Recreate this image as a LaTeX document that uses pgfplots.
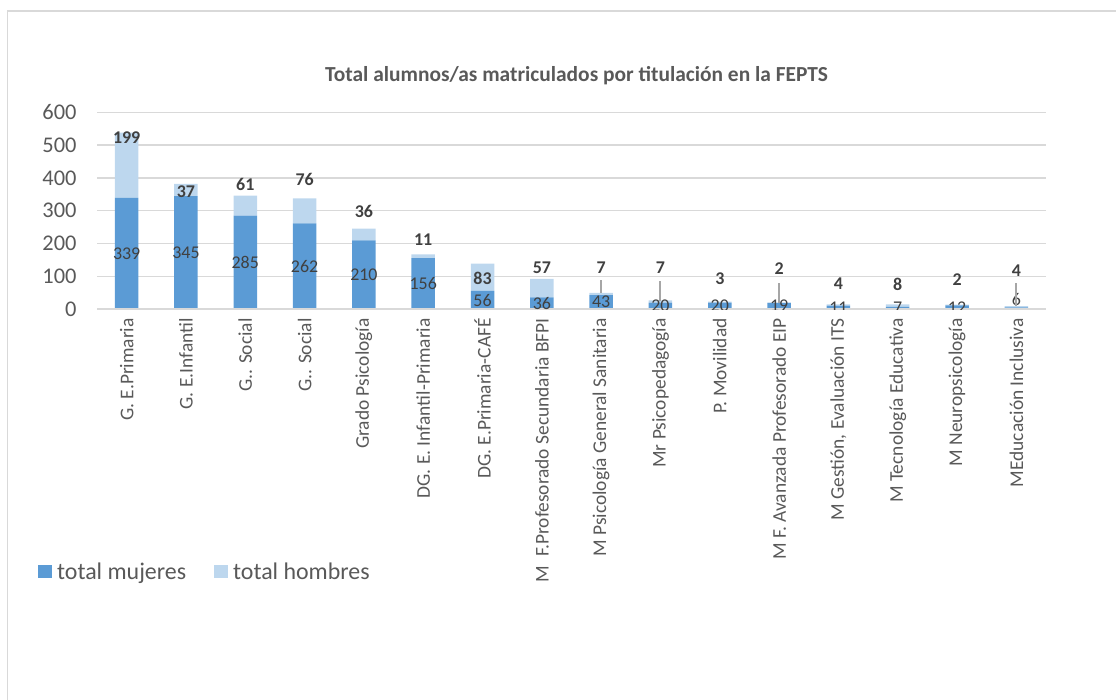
\documentclass[border=0pt]{standalone}
\usepackage{fontspec}
\setmainfont{Carlito}
\usepackage{pgfplots}
\pgfplotsset{compat=1.18}
\usepackage{pgfplotstable}

\definecolor{muj}{HTML}{5B9BD5}
\definecolor{hom}{HTML}{BDD7EE}
\definecolor{gridc}{HTML}{D9D9D9}
\definecolor{txt}{HTML}{595959}
\definecolor{lbl}{HTML}{404040}
\definecolor{lead}{HTML}{A6A6A6}

% i = titulación, m = total mujeres, h = total hombres
\pgfplotstableread{
i m h
0 339 199
1 345 37
2 285 61
3 262 76
4 210 36
5 156 11
6 56 83
7 36 57
8 43 7
9 20 7
10 20 3
11 19 2
12 11 4
13 7 8
14 12 2
15 6 4
}\datos

\pgfplotsset{marco/.style={
  at={(97bp,390.7bp)}, anchor=south west,
  scale only axis, width=949bp, height=197bp,
  xmin=-0.5, xmax=15.5, ymin=0, ymax=600}}

\begin{document}
\begin{tikzpicture}[x=1bp,y=1bp]
\path[use as bounding box] (0,0) rectangle (1116,700);
\draw[gridc, line width=1.2bp] (7.5,-5) -- (7.5,689) -- (1125,689);
\node[font=\bfseries\fontsize{21.5}{25}\selectfont, text=txt, anchor=base]
  at (576.5,618.3) {Total alumnos/as matriculados por titulación en la FEPTS};

\begin{axis}[
  marco,
  ybar stacked, bar width=23.5bp,
  xtick={0,...,15},
  xticklabels={G. E.Primaria, G. E.Infantil, G.. Social, G.. Social,
    Grado Psicología, DG. E. Infantil-Primaria, DG. E.Primaria-CAFÉ,
    M\ \ F.Profesorado Secundaria BFPI, M Psicología General Sanitaria,
    Mr Psicopedagogía, P. Movilidad, M F. Avanzada Profesorado EIP,
    {M Gestión, Evaluación ITS}, M Tecnología Educativa,
    M Neuropsicología, MEducación Inclusiva},
  ytick={0,100,...,600},
  axis line style={draw=none},
  major tick length=0pt,
  ymajorgrids, grid style={gridc, line width=1.3bp},
  /pgf/number format/assume math mode=true,
  yticklabel style={font=\fontsize{22.5}{26}\selectfont, text=txt, xshift=-17bp},
  xticklabel style={yshift=-5.5bp, rotate=90, anchor=east,
    font=\fontsize{19.5}{23}\selectfont, text=txt},
  legend columns=2,
  legend style={at={(-0.0622,-1.331)}, anchor=west, draw=none, inner sep=0pt,
    font=\fontsize{24}{28}\selectfont, text=txt,
    /tikz/every odd column/.append style={column sep=3bp},
    /tikz/every even column/.append style={column sep=26bp}},
  legend image code/.code={\fill[#1] (0bp,-6.5bp) rectangle (14bp,6.5bp);},
]
\addplot[fill=muj, draw=none] table[x=i, y=m] {\datos};
\addplot[fill=hom, draw=none] table[x=i, y=h] {\datos};
\legend{total mujeres, total hombres}
\end{axis}

% segunda capa: línea del eje y etiquetas de datos encima de las barras
\begin{axis}[marco, hide axis]
\draw[gridc, line width=1.8bp] (rel axis cs:0,0) -- (rel axis cs:1,0);

% etiquetas de mujeres (centro del segmento)
\foreach \k/\v/\p in {0/339/169.5,1/345/172.5,2/285/142.5,3/262/131,4/210/105,
  5/156/78,6/56/28,7/36/18,8/43/21.5,9/20/10,10/20/10,11/19/9.5,12/11/5.5,
  13/7/3.5,14/12/6,15/6/31}{
  \edef\tmp{\noexpand\node[font=\noexpand\fontsize{18}{21}\noexpand\selectfont,
    text=lbl] at (axis cs:\k,\p) {\v};}\tmp}

% líneas guía
\foreach \k/\a/\b in {8/89/50,9/86/25,11/80/19,15/80/10}{
  \edef\tmp{\noexpand\draw[lead, line width=2bp] (axis cs:\k,\a) -- (axis cs:\k,\b);}\tmp}

% etiquetas de hombres
\foreach \k/\v/\p in {0/199/523,1/37/359,2/61/380,3/76/394,4/36/299,5/11/211,
  6/83/94,7/57/127,8/7/127,9/7/127,10/3/94,11/2/124,12/4/77,13/8/77,
  14/2/89,15/4/118}{
  \edef\tmp{\noexpand\node[font=\noexpand\bfseries\noexpand\fontsize{18}{21}\noexpand\selectfont,
    text=lbl] at (axis cs:\k,\p) {\v};}\tmp}
\end{axis}
\end{tikzpicture}
\end{document}
